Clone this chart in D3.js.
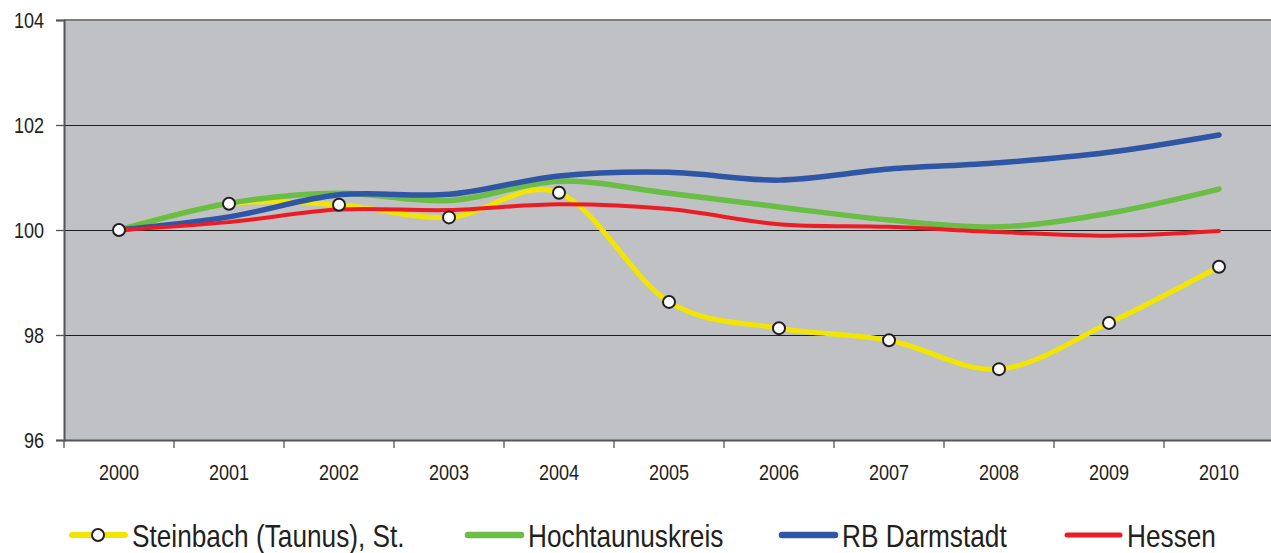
<!DOCTYPE html>
<html>
<head>
<meta charset="utf-8">
<script src="https://cdn.jsdelivr.net/npm/d3@7"></script>
<style>
  html, body { margin: 0; padding: 0; background: #ffffff; }
  svg { display: block; }
  text { font-family: "Liberation Sans Narrow", "Arial Narrow", "Liberation Sans", Arial, sans-serif; fill: #231f20; }
</style>
</head>
<body>
<svg id="chart" width="1271" height="553"></svg>
<script>
const years = ["2000","2001","2002","2003","2004","2005","2006","2007","2008","2009","2010"];
const steinbach = [100.00, 100.50, 100.48, 100.24, 100.71, 98.63, 98.13, 97.90, 97.35, 98.23, 99.30];
const hochtaunus = [100.00, 100.51, 100.70, 100.56, 100.93, 100.70, 100.44, 100.19, 100.06, 100.32, 100.78];
const rbDarmstadt = [100.00, 100.25, 100.67, 100.68, 101.03, 101.10, 100.95, 101.16, 101.28, 101.48, 101.81];
const hessen = [100.00, 100.15, 100.39, 100.38, 100.49, 100.40, 100.11, 100.06, 99.96, 99.89, 99.98];
const yTicks = [96, 98, 100, 102, 104];
const seriesNames = ["Steinbach (Taunus), St.", "Hochtaunuskreis", "RB Darmstadt", "Hessen"];

const svg = d3.select("#chart");
const mLeft = 64, mRight = 1274, mTop = 20, mBottom = 440;
const squeeze = 0.82; // condensed look of the original font

const x = d3.scaleBand().domain(years).range([mLeft, mRight]).padding(0);
const y = d3.scaleLinear().domain([96, 104]).range([mBottom, mTop]);
const cx = d => x(d) + x.bandwidth() / 2;

// plot background
svg.append("rect")
  .attr("x", mLeft).attr("y", mTop)
  .attr("width", mRight - mLeft).attr("height", mBottom - mTop)
  .attr("fill", "#c0c1c5");

// gridlines
svg.append("g").selectAll("line")
  .data(yTicks.filter(t => t > 96 && t < 104))
  .join("line")
  .attr("x1", mLeft).attr("x2", mRight)
  .attr("y1", d => y(d) + 0.5).attr("y2", d => y(d) + 0.5)
  .attr("stroke", "#1e1e1e").attr("stroke-width", 1);

// top border
svg.append("line")
  .attr("x1", mLeft).attr("x2", mRight)
  .attr("y1", y(104)).attr("y2", y(104))
  .attr("stroke", "#7d7d7f").attr("stroke-width", 2);

// y axis
const yAxis = svg.append("g")
  .attr("transform", `translate(${mLeft},0)`)
  .call(d3.axisLeft(y).tickValues(yTicks).tickSize(8).tickPadding(12).tickFormat(d3.format("d")));
yAxis.select(".domain").attr("stroke", "#555").attr("stroke-width", 2);
yAxis.selectAll(".tick line").attr("stroke", "#555").attr("stroke-width", 1.3);
yAxis.selectAll("text")
  .attr("font-size", 22).attr("fill", "#231f20")
  .attr("x", 0)
  .attr("transform", `translate(-20,0) scale(${squeeze},1)`);

// x axis
const xAxis = svg.append("g")
  .attr("transform", `translate(0,${mBottom})`)
  .call(d3.axisBottom(x).tickSize(0).tickPadding(24));
xAxis.select(".domain").attr("stroke", "#555").attr("stroke-width", 2);
xAxis.selectAll("text")
  .attr("font-size", 22).attr("fill", "#231f20")
  .attr("transform", `scale(${squeeze},1)`);
// category boundary ticks
svg.append("g").selectAll("line")
  .data(years)
  .join("line")
  .attr("x1", d => x(d)).attr("x2", d => x(d))
  .attr("y1", mBottom).attr("y2", mBottom + 8)
  .attr("stroke", "#555").attr("stroke-width", 1.3);

const line = d3.line()
  .x((d, i) => cx(years[i]))
  .y(d => y(d))
  .curve(d3.curveCardinal.tension(0));

const series = [
  { name: seriesNames[0], values: steinbach, color: "#f2e600", width: 5, markers: true },
  { name: seriesNames[1], values: hochtaunus, color: "#6abd45", width: 5.5, markers: false },
  { name: seriesNames[2], values: rbDarmstadt, color: "#2f55a5", width: 5.5, markers: false },
  { name: seriesNames[3], values: hessen, color: "#ed1c24", width: 4, markers: false }
];

series.forEach(s => {
  svg.append("path")
    .datum(s.values)
    .attr("d", line)
    .attr("fill", "none")
    .attr("stroke", s.color)
    .attr("stroke-width", s.width)
    .attr("stroke-linecap", "round")
    .attr("stroke-linejoin", "round");
});

// markers on top
svg.append("g").selectAll("circle")
  .data(steinbach)
  .join("circle")
  .attr("cx", (d, i) => cx(years[i]))
  .attr("cy", d => y(d))
  .attr("r", 6)
  .attr("fill", "#ffffff")
  .attr("stroke", "#231f20")
  .attr("stroke-width", 2);

// legend
const legendX = [72, 468, 782, 1067];
const legendY = 535;
const lg = svg.append("g");
series.forEach((s, i) => {
  const g = lg.append("g").attr("transform", `translate(${legendX[i]},${legendY})`);
  g.append("line")
    .attr("x1", 0).attr("x2", 53).attr("y1", 0).attr("y2", 0)
    .attr("stroke", s.color).attr("stroke-width", s.width + 1).attr("stroke-linecap", "round");
  if (s.markers) {
    g.append("circle").attr("cx", 26).attr("cy", 0).attr("r", 6)
      .attr("fill", "#fff").attr("stroke", "#231f20").attr("stroke-width", 2);
  }
  g.append("text")
    .attr("transform", `translate(60,12) scale(${squeeze},1)`)
    .attr("font-size", 32)
    .text(s.name);
});
</script>
</body>
</html>
